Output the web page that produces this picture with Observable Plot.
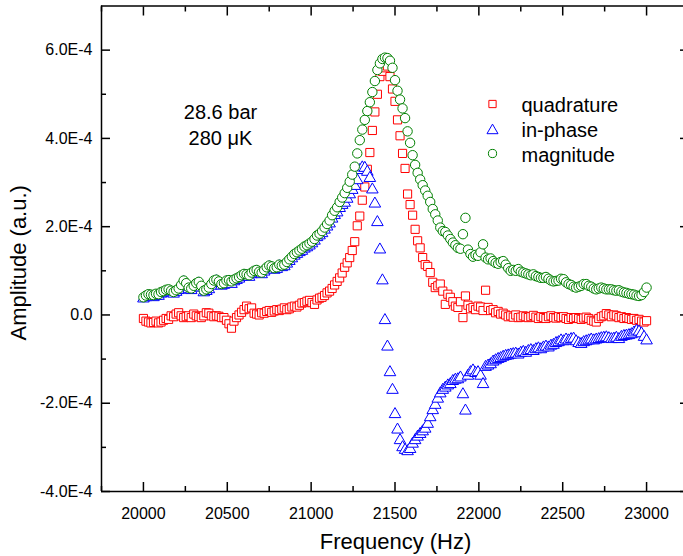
<!DOCTYPE html>
<html><head><meta charset="utf-8">
<script src="https://cdn.jsdelivr.net/npm/d3@7"></script>
<script src="https://cdn.jsdelivr.net/npm/@observablehq/plot@0.6"></script>
<style>
html,body{margin:0;padding:0;background:#fff;overflow:hidden}
</style></head><body><div id="chart"></div>
<script>
// Frequency sweep (Hz)
const frequency = [
20000,20015,20030,20045,20060,20075,20090,20105,20120,20135,
20150,20165,20180,20195,20210,20225,20240,20255,20270,20285,
20300,20315,20330,20345,20360,20375,20390,20405,20420,20435,
20450,20465,20480,20495,20510,20525,20540,20555,20570,20585,
20600,20615,20630,20645,20660,20675,20690,20705,20720,20735,
20750,20765,20780,20795,20810,20825,20840,20855,20870,20885,
20900,20915,20930,20945,20960,20975,20990,21005,21020,21035,
21050,21065,21080,21095,21110,21125,21140,21155,21170,21185,
21200,21215,21230,21245,21260,21275,21290,21305,21320,21335,
21350,21365,21380,21395,21410,21425,21440,21455,21470,21485,
21500,21515,21530,21545,21560,21575,21590,21605,21620,21635,
21650,21665,21680,21695,21710,21725,21740,21755,21770,21785,
21800,21815,21830,21845,21860,21875,21890,21905,21920,21935,
21950,21965,21980,21995,22010,22025,22040,22055,22070,22085,
22100,22115,22130,22145,22160,22175,22190,22205,22220,22235,
22250,22265,22280,22295,22310,22325,22340,22355,22370,22385,
22400,22415,22430,22445,22460,22475,22490,22505,22520,22535,
22550,22565,22580,22595,22610,22625,22640,22655,22670,22685,
22700,22715,22730,22745,22760,22775,22790,22805,22820,22835,
22850,22865,22880,22895,22910,22925,22940,22955,22970,22985,
23000];

// Amplitudes in units of 1E-4 (a.u.)
const quadrature = [
-0.08,-0.14,-0.16,-0.18,-0.17,-0.14,-0.18,-0.16,-0.12,-0.08,
-0.10,-0.02,-0.04,0.02,0.05,-0.02,-0.06,-0.04,-0.02,-0.06,
0.02,-0.02,-0.04,-0.06,-0.02,0.05,0.04,-0.02,-0.04,-0.02,
-0.03,-0.06,-0.06,-0.12,-0.20,-0.30,-0.14,-0.06,0.00,0.06,
0.12,0.20,0.14,0.16,0.04,0.02,0.00,0.05,0.04,0.08,
0.10,0.06,0.09,0.12,0.10,0.13,0.16,0.12,0.14,0.18,
0.20,0.18,0.22,0.27,0.28,0.31,0.33,0.28,0.24,0.34,
0.38,0.40,0.44,0.50,0.54,0.60,0.68,0.76,0.84,0.95,
1.08,1.18,1.30,1.46,1.66,2.02,2.24,2.60,2.90,3.30,
3.68,4.18,4.60,5.00,5.40,5.52,5.60,5.64,5.40,5.12,
4.84,4.42,4.06,3.66,3.32,2.74,2.50,2.26,1.94,1.68,
1.52,1.30,1.14,1.10,0.96,0.74,0.62,0.66,0.70,0.54,
0.24,0.47,0.40,0.30,0.20,0.17,0.30,-0.06,0.43,0.22,
0.14,0.17,0.12,0.20,0.18,0.10,0.56,0.17,0.10,0.12,
0.05,0.08,0.02,0.04,0.00,-0.04,-0.02,-0.05,0.00,-0.06,
-0.05,-0.02,-0.04,-0.06,-0.04,-0.01,-0.05,-0.08,-0.04,-0.06,
-0.08,-0.04,-0.02,-0.06,-0.07,-0.04,-0.06,-0.04,-0.08,-0.10,
-0.06,-0.08,-0.06,-0.08,-0.10,-0.07,-0.05,-0.08,-0.12,-0.14,
-0.16,-0.08,-0.04,-0.02,0.03,0.00,-0.04,0.00,-0.02,-0.06,
-0.04,-0.08,-0.06,-0.08,-0.10,-0.08,-0.12,-0.10,-0.14,-0.16,
-0.13];

const inPhase = [
0.37,0.40,0.42,0.41,0.40,0.43,0.43,0.48,0.50,0.52,
0.53,0.51,0.48,0.52,0.56,0.64,0.74,0.68,0.58,0.56,
0.62,0.68,0.71,0.62,0.51,0.54,0.58,0.66,0.74,0.76,
0.72,0.66,0.68,0.74,0.75,0.70,0.76,0.79,0.82,0.86,
0.89,0.88,0.86,0.92,0.96,0.98,0.94,0.92,0.98,1.04,
1.08,1.06,1.02,1.04,1.10,1.08,1.10,1.16,1.22,1.28,
1.34,1.38,1.42,1.45,1.50,1.53,1.57,1.62,1.68,1.76,
1.80,1.85,1.93,2.00,2.07,2.18,2.26,2.32,2.42,2.49,
2.54,2.63,2.73,2.83,2.92,3.05,3.28,3.34,3.33,3.24,
3.10,2.84,2.52,2.10,1.48,0.78,-0.12,-0.72,-1.30,-1.70,
-2.25,-2.60,-2.84,-3.00,-3.06,-3.09,-3.04,-2.92,-2.84,-2.76,
-2.70,-2.64,-2.58,-2.47,-2.32,-2.16,-2.04,-1.90,-1.78,-1.70,
-1.65,-1.60,-1.57,-1.50,-1.47,-1.46,-1.42,-1.80,-2.17,-1.38,
-1.30,-1.26,-1.32,-1.30,-1.38,-1.57,-1.18,-1.15,-1.12,-1.06,
-1.03,-1.00,-0.98,-0.95,-0.93,-0.92,-0.90,-0.89,-0.88,-0.90,
-0.86,-0.84,-0.86,-0.82,-0.80,-0.82,-0.78,-0.76,-0.78,-0.74,
-0.72,-0.74,-0.70,-0.68,-0.64,-0.62,-0.58,-0.60,-0.56,-0.58,
-0.55,-0.54,-0.60,-0.64,-0.66,-0.62,-0.60,-0.58,-0.56,-0.58,
-0.56,-0.55,-0.53,-0.52,-0.51,-0.53,-0.55,-0.54,-0.52,-0.55,
-0.50,-0.48,-0.47,-0.46,-0.44,-0.40,-0.36,-0.38,-0.42,-0.50,
-0.58];

const magnitude = [
0.40,0.44,0.47,0.46,0.45,0.48,0.47,0.52,0.54,0.57,
0.58,0.55,0.52,0.56,0.60,0.68,0.78,0.72,0.62,0.60,
0.66,0.72,0.75,0.66,0.55,0.58,0.62,0.70,0.78,0.80,
0.76,0.70,0.72,0.78,0.79,0.76,0.80,0.83,0.86,0.90,
0.93,0.92,0.90,0.96,1.00,1.02,0.98,0.96,1.02,1.08,
1.12,1.10,1.06,1.08,1.14,1.12,1.14,1.20,1.26,1.32,
1.38,1.42,1.46,1.50,1.55,1.58,1.62,1.66,1.72,1.80,
1.84,1.90,1.98,2.06,2.14,2.26,2.36,2.44,2.56,2.66,
2.76,2.88,3.02,3.18,3.36,3.66,3.96,4.20,4.42,4.62,
4.82,5.05,5.30,5.55,5.70,5.80,5.83,5.82,5.76,5.60,
5.32,5.08,4.88,4.68,4.46,4.16,3.90,3.62,3.40,3.22,
3.07,2.94,2.82,2.70,2.56,2.40,2.28,2.14,1.98,1.90,
1.88,1.80,1.72,1.64,1.58,1.52,1.50,1.83,2.20,1.48,
1.38,1.32,1.36,1.34,1.42,1.60,1.30,1.26,1.28,1.22,
1.18,1.16,1.20,1.22,1.14,1.06,1.00,1.02,1.00,1.04,
0.98,0.96,0.94,0.92,0.90,0.92,0.88,0.86,0.84,0.84,
0.86,0.82,0.78,0.76,0.77,0.78,0.82,0.81,0.74,0.70,
0.68,0.64,0.62,0.64,0.66,0.70,0.70,0.66,0.64,0.60,
0.58,0.60,0.62,0.60,0.58,0.58,0.58,0.56,0.55,0.56,
0.53,0.51,0.50,0.48,0.47,0.46,0.44,0.43,0.45,0.52,
0.62];

const seriesNames = ["quadrature", "in-phase", "magnitude"];
const xMajorTicks = [20000, 20500, 21000, 21500, 22000, 22500, 23000];
const xMinorTicks = [19750, 20250, 20750, 21250, 21750, 22250, 22750, 23250];
const yMajorTicks = [-4, -2, 0, 2, 4, 6];
const yMajorLabels = ["-4.0E-4", "-2.0E-4", "0.0", "2.0E-4", "4.0E-4", "6.0E-4"];
const yMinorTicks = [-3, -1, 1, 3, 5];
const annotationLines = ["28.6 bar", "280 \u03bcK"];
const xTitle = "Frequency (Hz)";
const yTitle = "Amplitude (a.u.)";

const rows = frequency.map((f, i) => ({f, q: quadrature[i], p: inPhase[i], m: magnitude[i]}));
const FONT = "'Liberation Sans', Arial, Helvetica, sans-serif";
const RED = "#ff0000", BLUE = "#0000ff", GREEN = "#008000";
const blank = () => "";

const chart = Plot.plot({
  width: 683,
  height: 556,
  marginLeft: 101,
  marginRight: 0,
  marginTop: 5.5,
  marginBottom: 65,
  style: {fontFamily: FONT, background: "white", color: "black"},
  x: {domain: [19750, 23250], range: [101, 688]},
  y: {domain: [-4, 7]},
  marks: [
    Plot.dot(rows, {x: "f", y: "q", symbol: "square", r: 4.6, stroke: RED, fill: "white", strokeWidth: 1}),
    Plot.dot(rows, {x: "f", y: "p", symbol: "triangle", r: 4.3, stroke: BLUE, fill: "white", strokeWidth: 1}),
    Plot.dot(rows, {x: "f", y: "m", symbol: "circle", r: 4.7, stroke: GREEN, fill: "white", strokeWidth: 1}),
    // frame (left, top, bottom; right edge lies outside the picture)
    Plot.ruleX([19750], {stroke: "black", strokeWidth: 1.5}),
    Plot.ruleY([-4], {stroke: "black", strokeWidth: 1.5}),
    Plot.ruleY([7], {stroke: "black", strokeWidth: 1.5}),
    // bottom axis
    Plot.axisX(xMajorTicks, {anchor: "bottom", tickSize: -9, tickPadding: 25, strokeWidth: 1.5, tickFormat: d => String(d), fontSize: 16, label: null, color: "black"}),
    Plot.axisX(xMinorTicks, {anchor: "bottom", tickSize: -5, strokeWidth: 1.5, tickFormat: blank, label: null, color: "black"}),
    // top axis
    Plot.axisX(xMajorTicks, {anchor: "top", tickSize: -9, strokeWidth: 1.5, tickFormat: blank, label: null, color: "black"}),
    Plot.axisX(xMinorTicks, {anchor: "top", tickSize: -5, strokeWidth: 1.5, tickFormat: blank, label: null, color: "black"}),
    // left axis
    Plot.axisY(yMajorTicks, {anchor: "left", tickSize: -9, tickPadding: 18, strokeWidth: 1.5, tickFormat: d => yMajorLabels[yMajorTicks.indexOf(d)], fontSize: 16, label: null, color: "black"}),
    Plot.axisY(yMinorTicks, {anchor: "left", tickSize: -5, strokeWidth: 1.5, tickFormat: blank, label: null, color: "black"}),
    // right axis
    Plot.axisY(yMajorTicks, {anchor: "right", tickSize: -9, dx: 5, strokeWidth: 1.5, tickFormat: blank, label: null, color: "black"}),
    Plot.axisY(yMinorTicks, {anchor: "right", tickSize: -5, dx: 5, strokeWidth: 1.5, tickFormat: blank, label: null, color: "black"}),
    // axis titles
    Plot.text([xTitle], {frameAnchor: "bottom", dx: 3, dy: 50, fontSize: 22, textAnchor: "middle", lineAnchor: "middle", fill: "black"}),
    Plot.text([yTitle], {frameAnchor: "left", dx: -83, dy: 14, rotate: -90, fontSize: 22, textAnchor: "middle", lineAnchor: "middle", fill: "black"}),
    // annotation
    Plot.text([annotationLines[0]], {frameAnchor: "top-left", dx: 119, dy: 106.5, fontSize: 20, textAnchor: "middle", lineAnchor: "middle", fill: "black"}),
    Plot.text([annotationLines[1]], {frameAnchor: "top-left", dx: 119, dy: 132.5, fontSize: 20, textAnchor: "middle", lineAnchor: "middle", fill: "black"}),
    // legend
    Plot.dot([seriesNames[0]], {frameAnchor: "top-left", dx: 391, dy: 98, symbol: "square", r: 4.1, stroke: RED, fill: "white", strokeWidth: 1}),
    Plot.dot([seriesNames[1]], {frameAnchor: "top-left", dx: 391, dy: 124.5, symbol: "triangle", r: 4.1, stroke: BLUE, fill: "white", strokeWidth: 1}),
    Plot.dot([seriesNames[2]], {frameAnchor: "top-left", dx: 391, dy: 147.5, symbol: "circle", r: 4.1, stroke: GREEN, fill: "white", strokeWidth: 1}),
    Plot.text([seriesNames[0]], {frameAnchor: "top-left", dx: 420, dy: 100, fontSize: 20, textAnchor: "start", lineAnchor: "middle", fill: "black"}),
    Plot.text([seriesNames[1]], {frameAnchor: "top-left", dx: 420, dy: 125, fontSize: 20, textAnchor: "start", lineAnchor: "middle", fill: "black"}),
    Plot.text([seriesNames[2]], {frameAnchor: "top-left", dx: 420, dy: 150, fontSize: 20, textAnchor: "start", lineAnchor: "middle", fill: "black"})
  ]
});
document.getElementById("chart").appendChild(chart);
</script>
</body></html>
